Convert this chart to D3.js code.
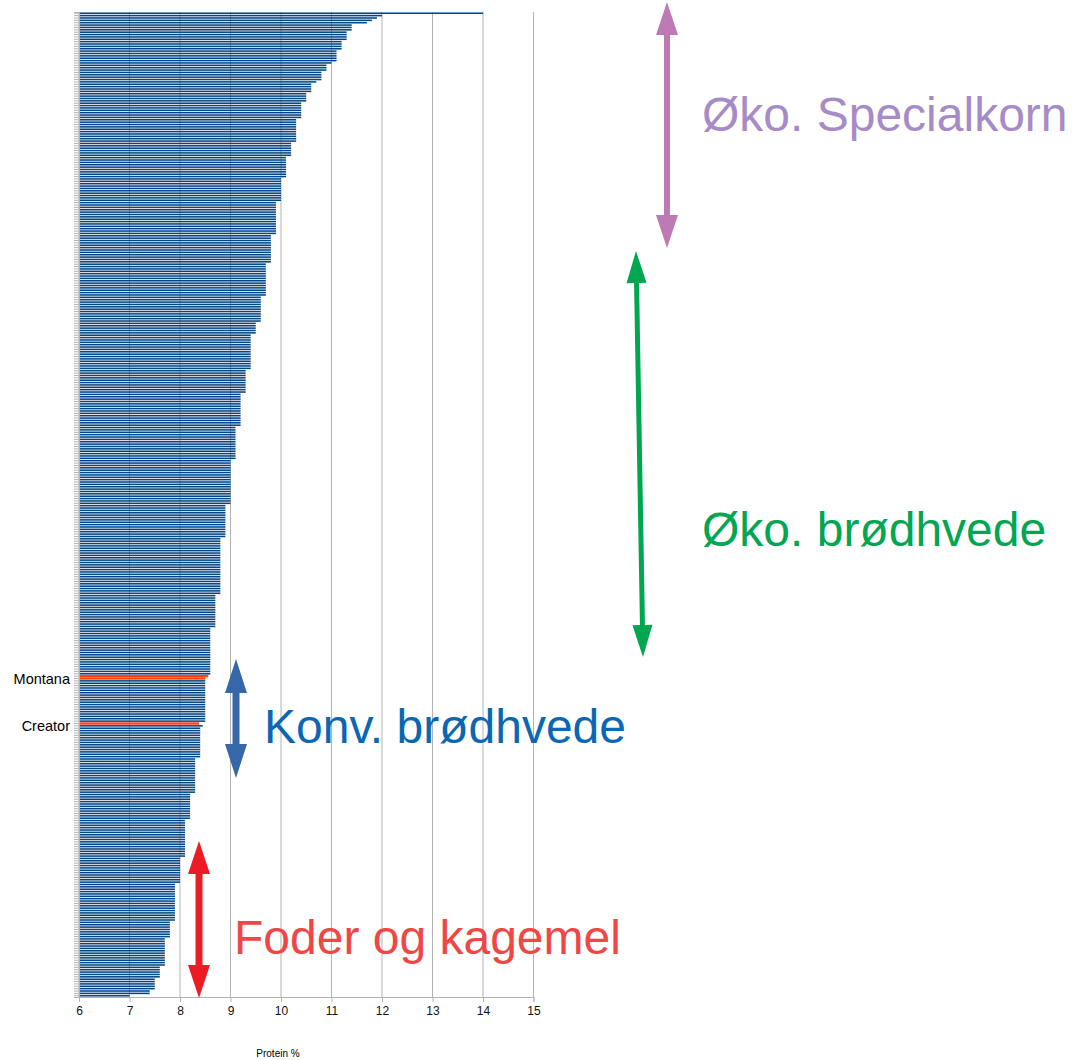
<!DOCTYPE html>
<html>
<head>
<meta charset="utf-8">
<script src="https://cdn.jsdelivr.net/npm/d3@7"></script>
<style>
  html, body { margin: 0; padding: 0; background: #fff; }
  svg { display: block; font-family: "Liberation Sans", Arial, sans-serif; }
</style>
</head>
<body>
<svg id="chart" width="1081" height="1060"></svg>
<script>
// ---------------- DATA ----------------
// Protein % per sample, sorted top (high) to bottom (low)
const proteinValues = [
  14.0, 12.0, 11.9, 11.8, 11.7,
  11.4, 11.4, 11.4,
  11.3, 11.3, 11.3, 11.3,
  11.2, 11.2, 11.2, 11.2,
  11.1, 11.1, 11.1, 11.1, 11.1,
  11.0,
  10.9, 10.9, 10.9,
  10.8, 10.8, 10.8, 10.8,
  10.7,
  10.6, 10.6, 10.6, 10.6,
  10.5, 10.5, 10.5, 10.5,
  10.4, 10.4, 10.4, 10.4, 10.4, 10.4, 10.4,
  10.3, 10.3, 10.3, 10.3, 10.3, 10.3, 10.3, 10.3, 10.3, 10.3,
  10.2, 10.2, 10.2, 10.2, 10.2, 10.2,
  10.1, 10.1, 10.1, 10.1, 10.1, 10.1, 10.1, 10.1, 10.1,
  10.0, 10.0, 10.0, 10.0, 10.0, 10.0, 10.0, 10.0, 10.0, 10.0,
  9.9, 9.9, 9.9, 9.9, 9.9, 9.9, 9.9, 9.9, 9.9, 9.9, 9.9, 9.9, 9.9, 9.9,
  9.8, 9.8, 9.8, 9.8, 9.8, 9.8, 9.8, 9.8, 9.8, 9.8, 9.8, 9.8,
  9.7, 9.7, 9.7, 9.7, 9.7, 9.7, 9.7, 9.7, 9.7, 9.7, 9.7, 9.7, 9.7, 9.7,
  9.6, 9.6, 9.6, 9.6, 9.6, 9.6, 9.6, 9.6, 9.6, 9.6, 9.6,
  9.5, 9.5, 9.5, 9.5, 9.5,
  9.4, 9.4, 9.4, 9.4, 9.4, 9.4, 9.4, 9.4, 9.4, 9.4, 9.4, 9.4, 9.4, 9.4, 9.4,
  9.3, 9.3, 9.3, 9.3, 9.3, 9.3, 9.3, 9.3, 9.3, 9.3,
  9.2, 9.2, 9.2, 9.2, 9.2, 9.2, 9.2, 9.2, 9.2, 9.2, 9.2, 9.2, 9.2, 9.2,
  9.1, 9.1, 9.1, 9.1, 9.1, 9.1, 9.1, 9.1, 9.1, 9.1, 9.1, 9.1, 9.1, 9.1,
  9.0, 9.0, 9.0, 9.0, 9.0, 9.0, 9.0, 9.0, 9.0, 9.0, 9.0, 9.0, 9.0, 9.0, 9.0, 9.0, 9.0, 9.0, 9.0,
  8.9, 8.9, 8.9, 8.9, 8.9, 8.9, 8.9, 8.9, 8.9, 8.9, 8.9, 8.9, 8.9, 8.9,
  8.8, 8.8, 8.8, 8.8, 8.8, 8.8, 8.8, 8.8, 8.8, 8.8, 8.8, 8.8,
  8.8, 8.8, 8.8, 8.8, 8.8, 8.8, 8.8, 8.8, 8.8, 8.8, 8.8, 8.8,
  8.7, 8.7, 8.7, 8.7, 8.7, 8.7, 8.7, 8.7, 8.7, 8.7, 8.7, 8.7, 8.7, 8.7,
  8.6, 8.6, 8.6, 8.6, 8.6, 8.6, 8.6, 8.6, 8.6, 8.6,
  8.6, 8.6, 8.6, 8.6, 8.6, 8.6, 8.6, 8.6, 8.6, 8.6,
  8.56, 8.5,
  8.5, 8.5, 8.5, 8.5, 8.5, 8.5, 8.5, 8.5, 8.5,
  8.5, 8.5, 8.5, 8.5, 8.5, 8.5, 8.5, 8.5, 8.5,
  8.38, 8.45,
  8.4, 8.4, 8.4, 8.4, 8.4, 8.4, 8.4, 8.4, 8.4, 8.4, 8.4, 8.4, 8.4,
  8.3, 8.3, 8.3, 8.3, 8.3, 8.3, 8.3, 8.3, 8.3, 8.3, 8.3, 8.3, 8.3, 8.3, 8.3,
  8.2, 8.2, 8.2, 8.2, 8.2, 8.2, 8.2, 8.2, 8.2, 8.2, 8.2,
  8.1, 8.1, 8.1, 8.1, 8.1, 8.1, 8.1, 8.1, 8.1, 8.1, 8.1, 8.1, 8.1, 8.1, 8.1, 8.1,
  8.0, 8.0, 8.0, 8.0, 8.0, 8.0, 8.0, 8.0, 8.0, 8.0, 8.0,
  7.9, 7.9, 7.9, 7.9, 7.9, 7.9, 7.9, 7.9, 7.9, 7.9, 7.9, 7.9, 7.9, 7.9, 7.9, 7.9,
  7.8, 7.8, 7.8, 7.8, 7.8, 7.8, 7.8,
  7.7, 7.7, 7.7, 7.7, 7.7, 7.7, 7.7, 7.7, 7.7, 7.7, 7.7, 7.7,
  7.6, 7.6, 7.6, 7.6, 7.6,
  7.5, 7.5, 7.5, 7.5, 7.5,
  7.4, 7.4,
  7.0
];
// Highlighted varieties (row index in proteinValues -> label)
const highlightRows = [280, 281, 300];
const rowLabels = { 280: "Montana", 300: "Creator" };
const xTickValues = [6, 7, 8, 9, 10, 11, 12, 13, 14, 15];
const xAxisTitle = "Protein %";
const groupLabels = ["Øko. Specialkorn", "Øko. brødhvede", "Konv. brødhvede", "Foder og kagemel"];

// ---------------- LAYOUT / STYLE ----------------
const plot = { left: 79, right: 533.5, top: 12, bottom: 997 };
const barColor = "#004586";
const highlightColor = "#ff420e";
const gridColor = "#b3b3b3";

const annotations = [
  { label: groupLabels[0], arrow: [667, 2, 667, 248], arrowColor: "#bd7ab5", textColor: "#a68bc6", tx: 702, ty: 131, shaft: 6, headW: 22, headL: 33 },
  { label: groupLabels[1], arrow: [636, 251, 643, 657], arrowColor: "#00a650", textColor: "#00a651", tx: 702, ty: 546, shaft: 5, headW: 20, headL: 32 },
  { label: groupLabels[2], arrow: [236, 659, 236, 778], arrowColor: "#3667a8", textColor: "#0a67b4", tx: 264, ty: 743, shaft: 7, headW: 22, headL: 34 },
  { label: groupLabels[3], arrow: [199, 841, 199, 998], arrowColor: "#ed1c24", textColor: "#ef4646", tx: 234, ty: 954, shaft: 7, headW: 22, headL: 33 }
];

// ---------------- DRAW ----------------
const svg = d3.select("#chart");
svg.append("rect").attr("width", 1081).attr("height", 1060).attr("fill", "#fff");

const x = d3.scaleLinear().domain([6, 15]).range([plot.left, plot.right]);
const y = d3.scaleBand()
  .domain(d3.range(proteinValues.length))
  .range([plot.top, plot.bottom])
  .paddingInner(0.35)
  .paddingOuter(0.2);

// vertical grid lines
svg.append("g").selectAll("line").data(xTickValues).join("line")
  .attr("x1", d => x(d)).attr("x2", d => x(d))
  .attr("y1", plot.top).attr("y2", plot.bottom)
  .attr("stroke", gridColor).attr("stroke-width", 1);

// bars
const hl = new Set(highlightRows);
svg.append("g").selectAll("rect").data(proteinValues).join("rect")
  .attr("x", x(6))
  .attr("y", (d, i) => y(i) - (hl.has(i) ? 0.4 : 0))
  .attr("width", d => x(d) - x(6))
  .attr("height", (d, i) => y.bandwidth() + (hl.has(i) ? 0.8 : 0))
  .attr("fill", (d, i) => hl.has(i) ? highlightColor : barColor);

// y axis
const yAxis = d3.axisLeft(y).tickSize(5).tickPadding(4)
  .tickFormat(i => rowLabels[i] || "");
const gy = svg.append("g").attr("transform", `translate(${plot.left},0)`).call(yAxis);
gy.select(".domain").attr("stroke", gridColor);
gy.selectAll(".tick line").attr("stroke", gridColor);
gy.selectAll(".tick text").attr("fill", "#000").attr("dy", "0.55em").style("font-size", "14.5px")
  .style("font-family", "'Liberation Sans', Arial, sans-serif");

// x axis
const xAxis = d3.axisBottom(x).tickValues(xTickValues).tickSize(5).tickPadding(4).tickFormat(d3.format("d"));
const gx = svg.append("g").attr("transform", `translate(0,${plot.bottom})`).call(xAxis);
gx.select(".domain").attr("stroke", gridColor);
gx.selectAll(".tick line").attr("stroke", gridColor);
gx.selectAll(".tick text").attr("fill", "#111").style("font-size", "12px")
  .style("font-family", "'Liberation Sans', Arial, sans-serif");

svg.append("text")
  .attr("x", 278).attr("y", 1057)
  .attr("text-anchor", "middle")
  .style("font-size", "10px")
  .attr("fill", "#000")
  .text(xAxisTitle);

// annotations: double-headed arrows + group labels
function doubleArrow(x1, y1, x2, y2, shaft, headW, headL) {
  const dx = x2 - x1, dy = y2 - y1, len = Math.hypot(dx, dy);
  const ux = dx / len, uy = dy / len, nx = -uy, ny = ux;
  const P = (t, s) => [x1 + ux * t + nx * s, y1 + uy * t + ny * s];
  const pts = [
    P(0, 0), P(headL, headW / 2), P(headL, shaft / 2), P(len - headL, shaft / 2),
    P(len - headL, headW / 2), P(len, 0), P(len - headL, -headW / 2), P(len - headL, -shaft / 2),
    P(headL, -shaft / 2), P(headL, -headW / 2)
  ];
  return d3.line()(pts) + "Z";
}
const ga = svg.append("g");
annotations.forEach(a => {
  ga.append("path")
    .attr("d", doubleArrow(...a.arrow, a.shaft, a.headW, a.headL))
    .attr("fill", a.arrowColor);
  ga.append("text")
    .attr("x", a.tx).attr("y", a.ty)
    .attr("fill", a.textColor)
    .style("font-size", "48px")
    .text(a.label);
});
</script>
</body>
</html>
